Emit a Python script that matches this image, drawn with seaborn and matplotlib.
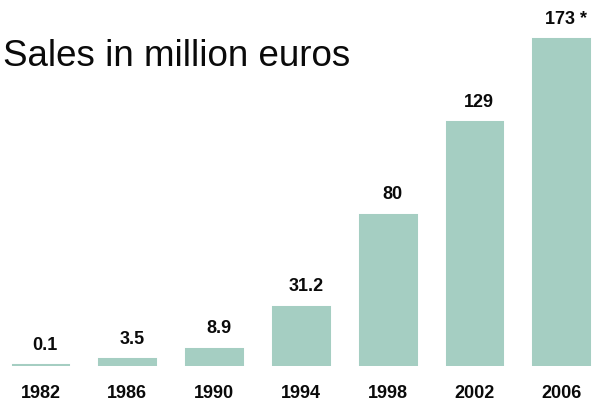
import matplotlib
matplotlib.use("Agg")
import matplotlib.pyplot as plt
import seaborn as sns
import pandas as pd

years = ["1982", "1986", "1990", "1994", "1998", "2002", "2006"]
sales = [0.1, 3.5, 8.9, 31.2, 80, 129, 173]
value_labels = ["0.1", "3.5", "8.9", "31.2", "80", "129", "173 *"]
title = "Sales in million euros"

sns.set_theme(style="white")
plt.rcParams["font.family"] = ["Liberation Sans", "DejaVu Sans"]

df = pd.DataFrame({"year": years, "sales": sales})

W, H = 593, 403
fig = plt.figure(figsize=(W / 100, H / 100), dpi=100)
base_px = 365.5
ax = fig.add_axes([0, (H - base_px) / H, 1, base_px / H])

color = "#a5cec2"
sns.barplot(data=df, x="year", y="sales", color=color, width=0.645,
            edgecolor=color, linewidth=2.2, saturation=1, ax=ax)

scale = 1.885
ax.set_xlim(-40.5 / 86.8, (W - 40.5) / 86.8)
ax.set_ylim(0, base_px / scale)

for i, (v, lab) in enumerate(zip(sales, value_labels)):
    ax.annotate(lab, xy=(i, v), xytext=(3.5, 11),
                textcoords="offset points", ha="center", va="baseline",
                fontsize=13, fontweight="bold", color="#0a0a0a")

ax.set_xticks(range(len(years)))
ax.set_xticklabels(years, fontsize=13, fontweight="bold", color="#0a0a0a")
ax.tick_params(axis="x", length=0, pad=14)
ax.set_yticks([])
ax.set_xlabel("")
ax.set_ylabel("")
for s in ax.spines.values():
    s.set_visible(False)

fig.text(3 / W, (H - 65.5) / H, title, fontsize=26.5, va="baseline", ha="left",
         color="#0a0a0a")

fig.savefig("out.png", dpi=100)
